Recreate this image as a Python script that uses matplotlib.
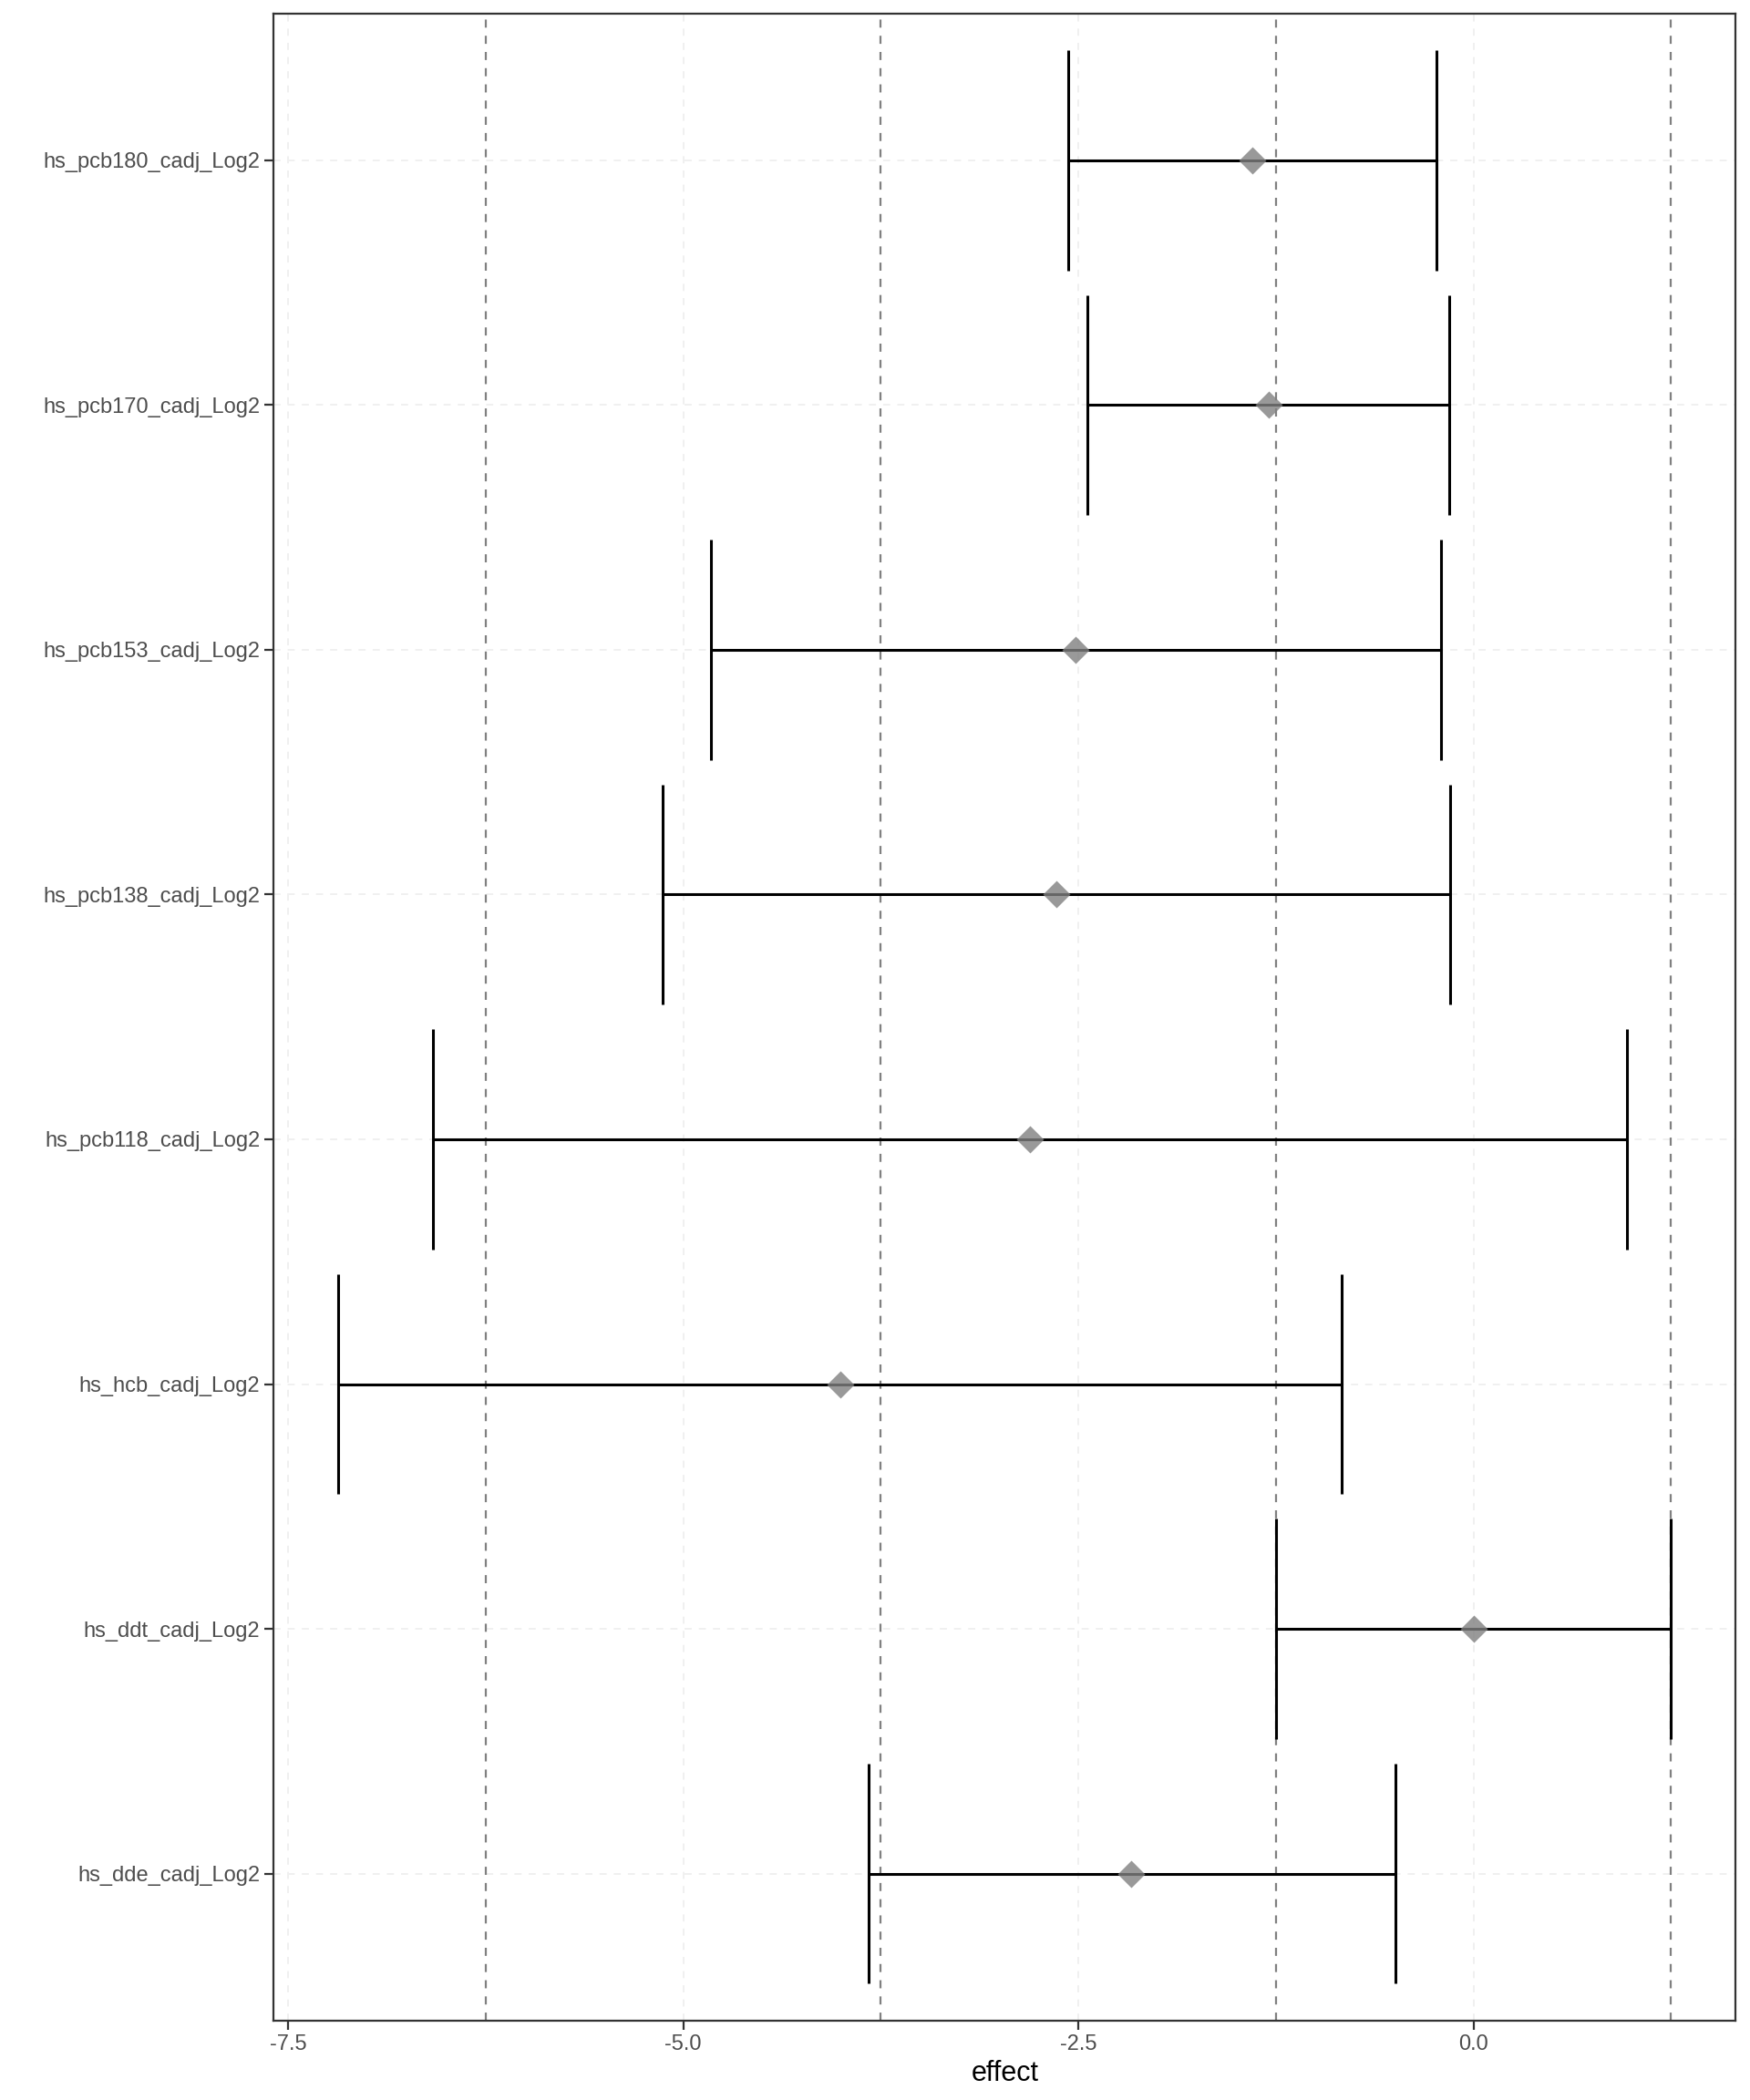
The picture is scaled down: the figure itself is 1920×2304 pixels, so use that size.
import numpy as np
import matplotlib
matplotlib.use("Agg")
import matplotlib.pyplot as plt

plt.rcParams['font.family'] = ['Liberation Sans', 'DejaVu Sans']

# exposures, bottom to top
exposures = ["hs_dde_cadj_Log2", "hs_ddt_cadj_Log2", "hs_hcb_cadj_Log2",
             "hs_pcb118_cadj_Log2", "hs_pcb138_cadj_Log2", "hs_pcb153_cadj_Log2",
             "hs_pcb170_cadj_Log2", "hs_pcb180_cadj_Log2"]
effect = [-2.164, 0.0, -4.007, -2.804, -2.638, -2.519, -1.298, -1.397]
lower = [-3.829, -1.25, -7.184, -6.586, -5.133, -4.825, -2.442, -2.565]
upper = [-0.492, 1.25, -0.836, 0.972, -0.148, -0.207, -0.154, -0.237]
ref_lines = [-6.25, -3.75, -1.25, 1.25]
xticks = [-7.5, -5.0, -2.5, 0.0]

fig = plt.figure(figsize=(19.2, 23.04), dpi=100)
ax = fig.add_axes([0.1565, 0.0379, 0.9917 - 0.1565, 0.9936 - 0.0379])

y = np.arange(len(exposures))

# faint dashed major grid
for xt in xticks:
    ax.axvline(xt, color='#f0f0f0', lw=1.4, ls=(0, (4, 4)), zorder=0)
for yy in y:
    ax.axhline(yy, color='#f0f0f0', lw=1.4, ls=(0, (4, 4)), zorder=0)

for xv in ref_lines:
    ax.axvline(xv, color='#808080', lw=1.6, ls=(0, (4, 4)), zorder=1)

ax.errorbar(effect, y, xerr=[np.array(effect) - np.array(lower),
                            np.array(upper) - np.array(effect)],
            fmt='none', ecolor='black', elinewidth=2.2, capsize=0, zorder=2)
ax.vlines(lower, y - 0.45, y + 0.45, color='black', lw=2.2, zorder=2)
ax.vlines(upper, y - 0.45, y + 0.45, color='black', lw=2.2, zorder=2)
ax.plot(effect, y, 'D', color='#808080', alpha=0.8, ms=15, mec='none', zorder=3)

ax.set_xlim(-7.59, 1.657)
ax.set_ylim(-0.6, len(exposures) - 0.4)
ax.set_xticks(xticks)
ax.set_xticklabels(["-7.5", "-5.0", "-2.5", "0.0"])
ax.set_yticks(y)
ax.set_yticklabels(exposures)
ax.tick_params(axis='both', labelsize=17, labelcolor='#4d4d4d', color='#333333',
               length=7, width=1.6, pad=4)
ax.set_xlabel("effect", fontsize=22, labelpad=4)

for s in ax.spines.values():
    s.set_color('#333333')
    s.set_linewidth(1.6)

fig.savefig("out.png", dpi=100)
